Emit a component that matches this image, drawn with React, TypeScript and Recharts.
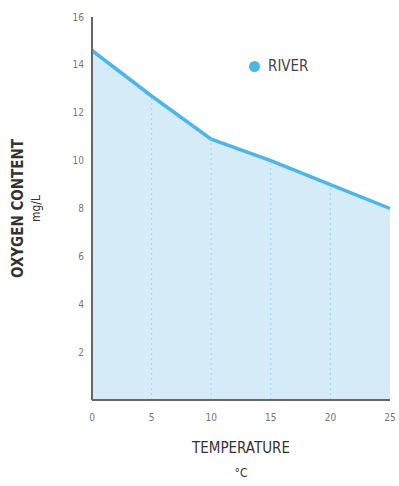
import { Area, AreaChart, Legend, ReferenceLine, XAxis, YAxis } from "recharts";

const temperatures = [0, 5, 10, 15, 20, 25];
const oxygen = [14.6, 12.7, 10.9, 10.0, 9.0, 8.0];
const xTicks = [0, 5, 10, 15, 20, 25];
const yTicks = [2, 4, 6, 8, 10, 12, 14, 16];

const data = temperatures.map((t, i) => ({ temp: t, river: oxygen[i] }));

const LINE = "#4cb6e6";
const FILL = "#d5ecf8";
const AXIS = "#666666";
const FONT = "'Liberation Sans Narrow', 'DejaVu Sans Condensed', 'Liberation Sans', sans-serif";

function XLabel({ viewBox }: any) {
  const cx = viewBox.x + viewBox.width / 2;
  return (
    <g fontFamily={FONT} fill="#333" textAnchor="middle">
      <text x={cx} y={453} fontSize={15}>TEMPERATURE</text>
      <text x={cx} y={477} fontSize={12}>°C</text>
    </g>
  );
}

function YLabel({ viewBox }: any) {
  const cy = viewBox.y + viewBox.height / 2;
  return (
    <g fontFamily={FONT} fill="#333" textAnchor="middle">
      <text x={23} y={cy} fontSize={15} fontWeight={600} transform={`rotate(-90 23 ${cy})`}>OXYGEN CONTENT</text>
      <text x={40} y={cy} fontSize={12} transform={`rotate(-90 40 ${cy})`}>mg/L</text>
    </g>
  );
}

function LegendBox() {
  return (
    <div style={{ display: "flex", alignItems: "center", fontFamily: FONT, fontSize: 15, color: "#444" }}>
      <span style={{ width: 11, height: 11, borderRadius: "50%", background: LINE, marginRight: 8 }} />
      RIVER
    </div>
  );
}

export default function App() {
  return (
    <div style={{ position: "absolute", left: 0, top: 0, background: "#fff" }}>
      <AreaChart width={399} height={486} data={data} margin={{ top: 17, right: 9, bottom: 0, left: 0 }}>
        <XAxis
          dataKey="temp"
          type="number"
          domain={[0, 25]}
          ticks={xTicks}
          height={86}
          stroke={AXIS}
          strokeWidth={2}
          tickLine={false}
          tickMargin={8}
          tick={{ fontSize: 10, fill: "#777", fontFamily: FONT }}
          label={<XLabel />}
        />
        <YAxis
          type="number"
          domain={[0, 16]}
          ticks={yTicks}
          width={92}
          stroke={AXIS}
          strokeWidth={2}
          tickLine={false}
          tick={{ fontSize: 10, fill: "#777", fontFamily: FONT }}
          label={<YLabel />}
        />
        <Legend
          layout="horizontal"
          verticalAlign="middle"
          align="center"
          wrapperStyle={{ top: 57, left: 249, width: 100 }}
          content={<LegendBox />}
        />
        <Area
          type="linear"
          dataKey="river"
          name="RIVER"
          stroke={LINE}
          strokeWidth={3.5}
          fill={FILL}
          fillOpacity={1}
          isAnimationActive={false}
          dot={false}
          activeDot={false}
        />
        {temperatures.slice(1, -1).map((t, i) => (
          <ReferenceLine
            key={t}
            segment={[
              { x: t, y: 0 },
              { x: t, y: oxygen[i + 1] },
            ]}
            stroke="#9fd3ee"
            strokeDasharray="2 3"
            strokeWidth={1}
          />
        ))}
      </AreaChart>
    </div>
  );
}
